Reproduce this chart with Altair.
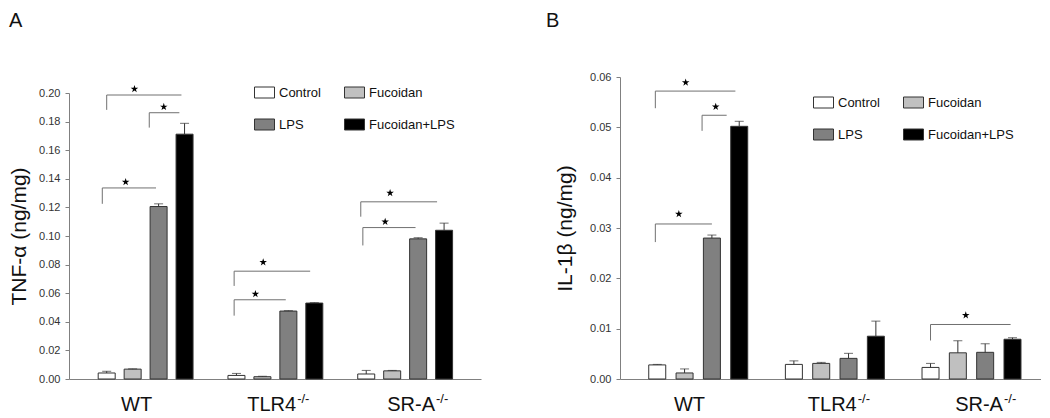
import altair as alt
import pandas as pd

FONT = "Liberation Sans"
STAR = ("M0,-1L0.2245,-0.309L0.951,-0.309L0.363,0.118L0.588,0.809L0,0.382"
        "L-0.588,0.809L-0.363,0.118L-0.951,-0.309L-0.2245,-0.309Z")
BOX = "M-1,-0.55H1V0.55H-1Z"

# ---------------- data ----------------
groups = ["WT", "TLR4", "SR-A"]
group_sup = ["", "-/-", "-/-"]
group_label_x = [1.75, 7.3, 12.65]          # join point of name / superscript (bar units)
treatments = ["Control", "Fucoidan", "LPS", "Fucoidan+LPS"]
fills = ["#ffffff", "#c0c0c0", "#808080", "#000000"]

# Panel A: TNF-alpha (ng/mg), order WT, TLR4-/-, SR-A-/- x treatments
tnf_mean = [0.0042, 0.0069, 0.1206, 0.1712,
            0.0025, 0.0016, 0.0475, 0.0531,
            0.0035, 0.0057, 0.0980, 0.1040]
tnf_err = [0.0012, 0.0002, 0.0019, 0.0076,
           0.0014, 0.0003, 0.0003, 0.0003,
           0.0025, 0.0003, 0.0008, 0.0050]
tnf_ticks = [0.00, 0.02, 0.04, 0.06, 0.08, 0.10, 0.12, 0.14, 0.16, 0.18, 0.20]

# Panel B: IL-1beta (ng/mg)
il_mean = [0.0028, 0.0012, 0.0280, 0.0502,
           0.0029, 0.0031, 0.0041, 0.0085,
           0.0023, 0.0052, 0.0053, 0.0079]
il_err = [0.0001, 0.0008, 0.0006, 0.0010,
          0.0007, 0.0002, 0.0010, 0.0030,
          0.0008, 0.0024, 0.0017, 0.0003]
il_ticks = [0.00, 0.01, 0.02, 0.03, 0.04, 0.05, 0.06]

# significance brackets (x in bar units, y in data units)
tnf_br_x1 = [0.0, 1.64, -0.17, 4.91, 4.91, 9.79, 9.87]
tnf_br_x2 = [2.88, 2.80, 1.90, 7.84, 6.90, 12.73, 11.90]
tnf_br_y = [0.1986, 0.1862, 0.1336, 0.0754, 0.0554, 0.1239, 0.1059]
tnf_br_low = [0.1882, 0.1758, 0.1225, 0.0651, 0.0443, 0.1135, 0.0934]
tnf_star_x = [1.07, 2.20, 0.73, 6.03, 5.73, 10.92, 10.73]
tnf_star_y = [0.2028, 0.1903, 0.1377, 0.0817, 0.0595, 0.1301, 0.1100]

il_br_x1 = [-0.07, 1.64, -0.07, 10.0]
il_br_x2 = [2.86, 2.54, 2.00, 12.93]
il_br_y = [0.0572, 0.0524, 0.0308, 0.01083]
il_br_low = [0.0538, 0.0493, 0.0272, 0.00765]
il_star_x = [1.04, 2.14, 0.79, 11.29]
il_star_y = [0.0589, 0.0541, 0.0328, 0.01268]


def panel(letter, letter_dx, letter_off, ytitle, ytitle_pad, mean, err, ticks, ymax,
          yrange, width, xdomain, bx1, bx2, by, blow, sx, sy, legx, legy):
    rows = []
    for gi, g in enumerate(groups):
        for ti, t in enumerate(treatments):
            k = gi * len(treatments) + ti
            rows.append({"pos": gi * 5 + ti, "treatment": t,
                         "mean": mean[k], "err": err[k]})
    df = pd.DataFrame(rows)
    df["top"] = df["mean"] + df["err"]

    xs = alt.Scale(domain=xdomain, nice=False, zero=False)
    ys = alt.Scale(domain=[0, ymax], range=yrange, nice=False, zero=True)
    xax = alt.Axis(labels=False, ticks=False, grid=False, title=None,
                   domainColor="#808080", domainWidth=1)
    yax = alt.Axis(values=ticks, format=".2f", title=ytitle,
                   titlePadding=ytitle_pad, grid=False)

    def X(f):
        return alt.X(f, scale=xs, axis=xax, title=None)

    def Y(f):
        return alt.Y(f, scale=ys, axis=yax, title=ytitle)

    base = alt.Chart(df)
    bars = base.mark_bar(size=17, stroke="#333333", strokeWidth=1).encode(
        x=X("pos:Q"),
        y=Y("mean:Q"),
        fill=alt.Fill("treatment:N",
                      scale=alt.Scale(domain=treatments, range=fills),
                      legend=alt.Legend(orient="none", legendX=legx, legendY=legy,
                                        direction="horizontal",
                                        columns=2, columnPadding=21, rowPadding=14,
                                        symbolType=BOX, symbolSize=400,
                                        symbolStrokeColor="#333333",
                                        symbolStrokeWidth=1, symbolOpacity=1,
                                        labelFont=FONT, labelFontSize=13,
                                        labelColor="#111111", labelOffset=4,
                                        title=None)),
    )
    stems = base.mark_rule(color="#333333", strokeWidth=1).encode(
        x=X("pos:Q"), y=Y("mean:Q"), y2="top:Q",
    )
    caps = base.mark_tick(orient="horizontal", size=9, thickness=1,
                          color="#333333").encode(
        x=X("pos:Q"), y=Y("top:Q"),
    )

    br = pd.DataFrame({"bx1": bx1, "bx2": bx2, "by": by, "blow": blow})
    hlines = alt.Chart(br).mark_rule(color="#707070", strokeWidth=1).encode(
        x=X("bx1:Q"), x2="bx2:Q", y=Y("by:Q"),
    )
    legs = alt.Chart(br).mark_rule(color="#707070", strokeWidth=1).encode(
        x=X("bx1:Q"), y=Y("blow:Q"), y2="by:Q",
    )
    st = pd.DataFrame({"sx": sx, "sy": sy})
    stars = alt.Chart(st).mark_point(shape=STAR, size=64, filled=True,
                                     color="#000000", opacity=1).encode(
        x=X("sx:Q"), y=Y("sy:Q"),
    )

    lab = pd.DataFrame({"gx": group_label_x, "name": groups, "sup": group_sup})
    names = alt.Chart(lab).mark_text(align="right", baseline="alphabetic", dy=32,
                                     fontSize=20, font=FONT, color="#111111").encode(
        x=X("gx:Q"),
        y=alt.Y(datum=0, scale=ys, axis=yax, title=ytitle),
        text="name:N",
    )
    sups = alt.Chart(lab).mark_text(align="left", baseline="alphabetic", dy=24,
                                    dx=1, fontSize=13, font=FONT,
                                    color="#111111").encode(
        x=X("gx:Q"),
        y=alt.Y(datum=0, scale=ys, axis=yax, title=ytitle),
        text="sup:N",
    )

    return alt.layer(bars, stems, caps, hlines, legs, stars, names, sups).properties(
        width=width, height=302,
        title=alt.TitleParams(letter, anchor="start", frame="group", dx=letter_dx,
                              fontSize=20, fontWeight="normal", font=FONT,
                              color="#111111", offset=letter_off),
    )


pa = panel("A", -60, 46, "TNF-α (ng/mg)", 9, tnf_mean, tnf_err, tnf_ticks, 0.20,
           [302, 16], 412, [-1.26, 14.23],
           tnf_br_x1, tnf_br_x2, tnf_br_y, tnf_br_low, tnf_star_x, tnf_star_y,
           185, 5)
pb = panel("B", -74, 40, "IL-1β (ng/mg)", 14, il_mean, il_err, il_ticks, 0.06,
           [302, 0], 421, [-1.18, 13.86],
           il_br_x1, il_br_x2, il_br_y, il_br_low, il_star_x, il_star_y,
           193, 15)

chart = alt.hconcat(pa, pb, spacing=65).resolve_scale(
    x="independent", y="independent", fill="independent"
).resolve_legend(fill="independent").properties(
    padding={"left": 0, "top": 3, "right": 0, "bottom": 0}
).configure_view(stroke=None).configure_axis(
    labelFont=FONT, labelFontSize=11, labelColor="#333333",
    tickColor="#808080", tickSize=4, labelPadding=5,
    domainColor="#808080", titleFont=FONT, titleFontSize=21,
    titleFontWeight="normal", titleColor="#111111",
)

chart.save("out.html", embed_options={"renderer": "svg", "actions": False})
